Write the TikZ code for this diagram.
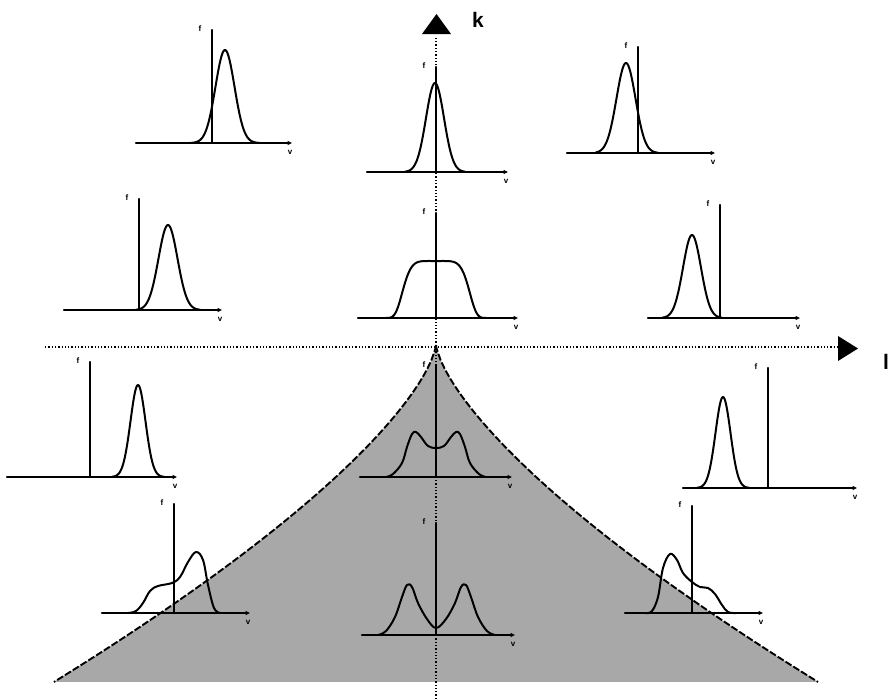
\documentclass[tikz,border=0pt]{standalone}
\usepackage{fontspec}
\setsansfont{Liberation Sans}
\usetikzlibrary{arrows.meta}
\tikzset{
  axisline/.style={line width=2.2pt, line cap=round},
  curve/.style={line width=2pt, line join=round, line cap=round},
  dotaxis/.style={line width=1.5pt, dash pattern=on 1.3pt off 2pt},
  cuspfill/.style={fill=black!34},
  cuspedge/.style={line width=1.9pt, dash pattern=on 7pt off 2.2pt},
  flab/.style={font=\sffamily\bfseries\fontsize{8}{8}\selectfont, inner sep=0pt},
  biglab/.style={font=\sffamily\bfseries\fontsize{21}{21}\selectfont, inner sep=0pt},
}
% name, ox, oy, xl, xr, ytop
\newcommand\mpaxes[6]{%
  \draw[axisline, -{Triangle[length=4.5pt,width=4pt]}] (#4,#3) -- (#5,#3);
  \draw[axisline] (#2,#3) -- (#2,#6);
  \node[flab] (#1f) at ({#2-12},{#6-1}) {f};
  \node[flab] (#1v) at ({#5-2},{#3+9}) {v};
}
% lo, hi, mu, sigma, amplitude, oy
\newcommand\mpgauss[6]{%
  \draw[curve] plot[domain=#1:#2, samples=70] (\x, {#6 - #5*exp(-((\x-#3)^2)/(2*#4*#4))});
}
\begin{document}
\begin{tikzpicture}[x=1pt, y=-1pt]
\useasboundingbox (0,0) rectangle (889,699);

% cusp region
\fill[cuspfill] (436,345)
  -- plot[domain=0.5:382, samples=90] ({436-\x}, {345+5.25*pow(\x,0.7)})
  -- plot[domain=382:0.5, samples=90] ({436+\x}, {345+5.25*pow(\x,0.7)})
  -- cycle;
\draw[cuspedge] (436,345) -- plot[domain=0.5:382, samples=90] ({436-\x}, {345+5.25*pow(\x,0.7)});
\draw[cuspedge] (436,345) -- plot[domain=0.5:382, samples=90] ({436+\x}, {345+5.25*pow(\x,0.7)});

% main dotted axes
\coordinate (vtop) at (436,36);
\coordinate (vbot) at (436,699);
\coordinate (hleft) at (45,347);
\coordinate (hright) at (838,347);
\draw[dotaxis] (vbot) -- (vtop);
\draw[dotaxis] (hleft) -- (hright);
\fill (422,34) -- (451,34) -- (436.5,14) -- cycle;
\fill (838,336) -- (838,361) -- (858,348.5) -- cycle;
\node[biglab] (klab) at (478,20) {k};
\node[biglab] (llab) at (886,362) {l};

% row 1
\mpaxes{a}{212}{143}{136}{292}{30}
\mpgauss{190}{260}{225}{9.5}{93}{143}
\mpaxes{b}{436}{172}{367}{508}{67}
\mpgauss{405}{465}{435}{9}{89}{172}
\mpaxes{c}{638}{153}{567}{715}{47}
\mpgauss{596}{658}{626}{9.5}{90}{153}

% row 2
\mpaxes{d}{139}{310}{64}{222}{199}
\mpgauss{136}{200}{168}{9.5}{85}{310}
\mpaxes{e}{436}{318}{358}{518}{213}
\draw[curve] plot[domain=386:486, samples=90] (\x, {318 - 57*exp(-((\x-436)/35)^6)});
\mpaxes{g}{720}{318}{648}{800}{205}
\mpgauss{662}{722}{692}{9}{83}{318}

% row 3
\mpaxes{h}{90}{477}{7}{177}{362}
\mpgauss{112}{164}{138}{7.5}{92}{477}
\mpaxes{i}{436}{477}{360}{512}{366}
\draw[curve] plot[smooth, tension=0.6] coordinates {(386,477) (393,474) (402,463) (407,447) (412,434) (416,432) (421,437) (428,446) (436,448) (444,446) (451,437) (456,432) (460,434) (465,447) (470,463) (479,474) (486,477)};
\mpaxes{j}{768}{488}{683}{857}{368}
\mpgauss{697}{749}{723}{7.5}{91}{488}

% row 4
\mpaxes{m}{174}{613}{102}{250}{504}
\draw[curve] plot[smooth, tension=0.6] coordinates {(128,613) (136,611) (143,603) (150,591) (158,586) (172,583) (180,577) (188,562) (196,552) (203,560) (208,585) (214,608) (220,613)};
\mpaxes{n}{436}{635}{362}{515}{523}
\draw[curve] plot[smooth, tension=0.6] coordinates {(378,635) (386,631) (395,617) (402,597) (407,585) (412,587) (418,603) (427,619) (436,628) (446,619) (455,603) (461,587) (466,585) (471,597) (478,617) (487,631) (495,635)};
\mpaxes{p}{692}{613}{625}{763}{506}
\draw[curve] plot[smooth, tension=0.6] coordinates {(646,613) (652,611) (658,597) (663,568) (670,554) (677,560) (683,573) (692,582) (700,587) (708,588) (715,594) (722,605) (728,612) (736,613)};

\end{tikzpicture}
\end{document}
